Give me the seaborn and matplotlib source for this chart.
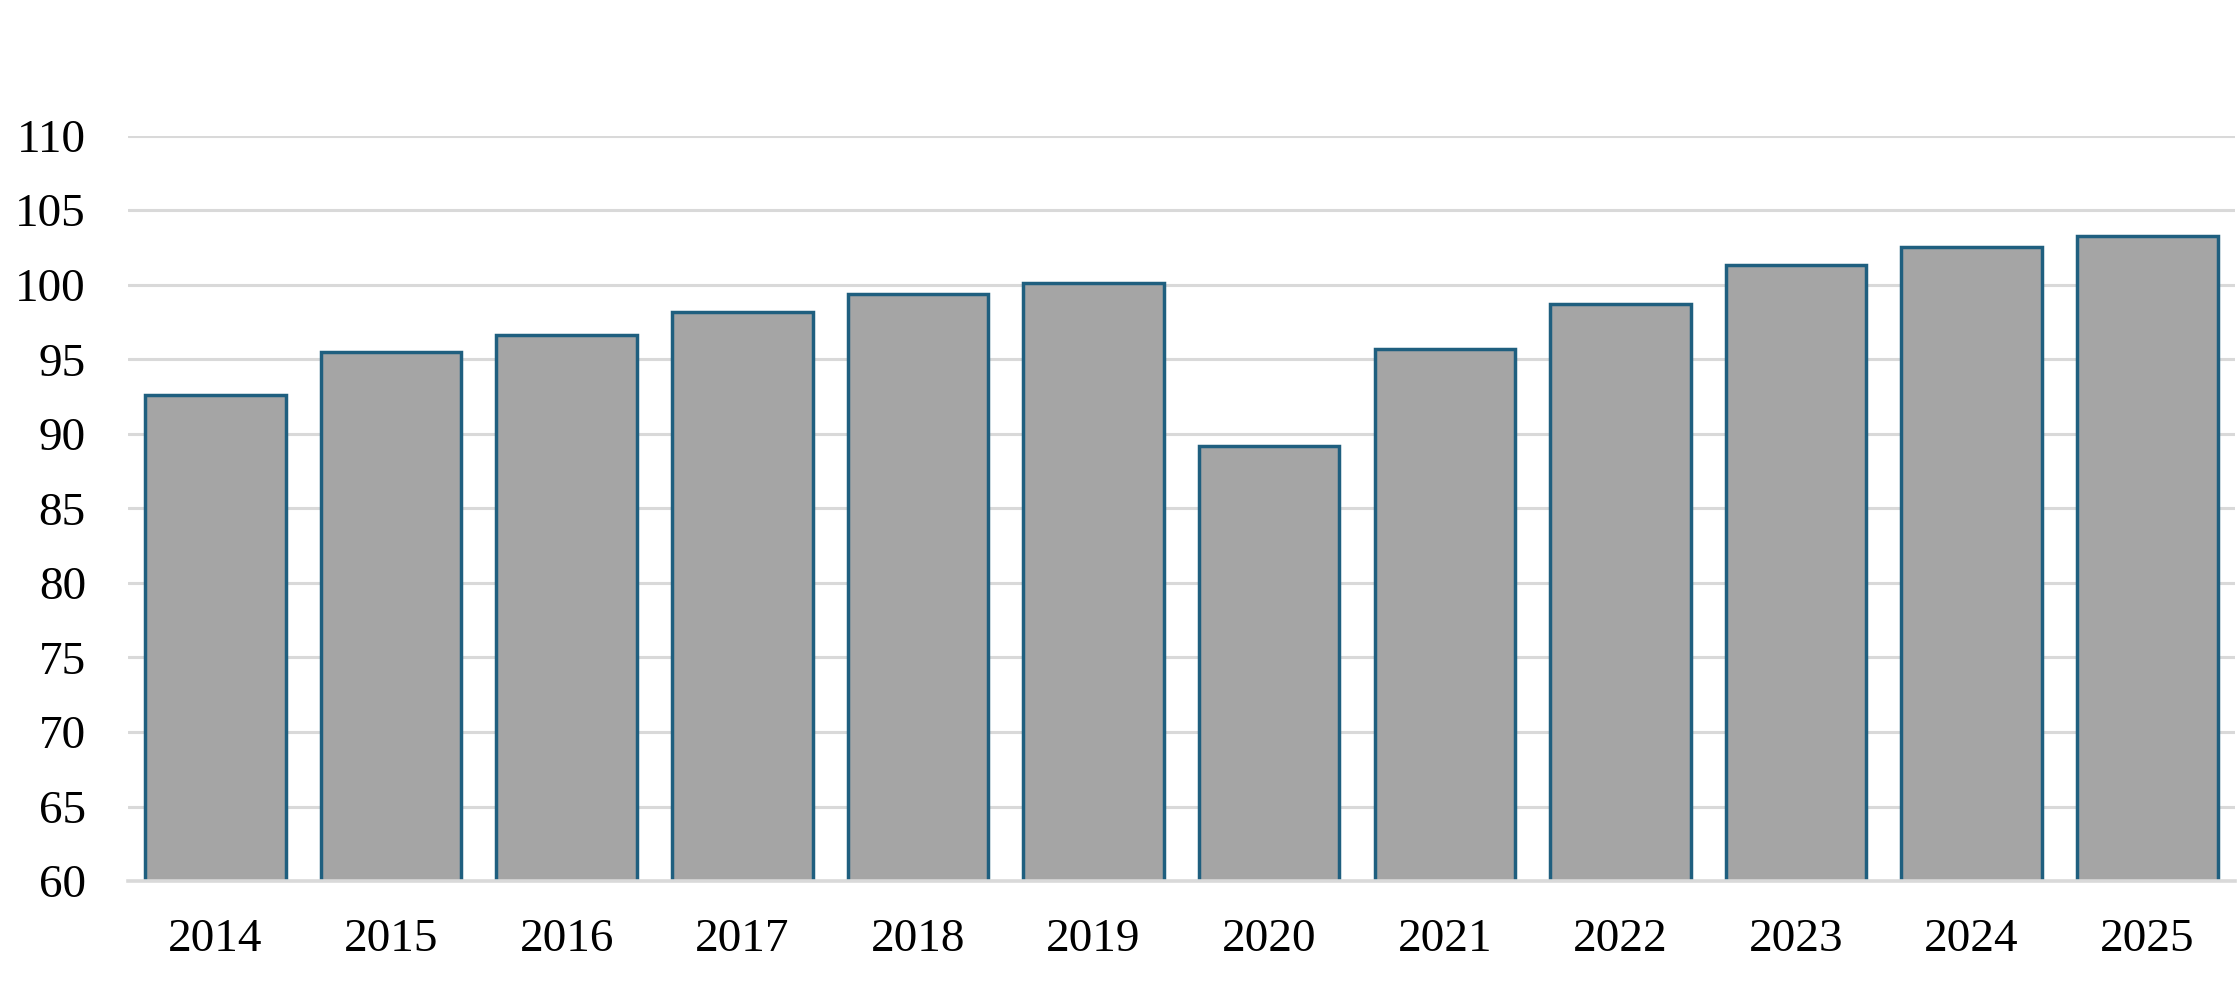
import matplotlib
matplotlib.use("Agg")
import matplotlib.pyplot as plt
import seaborn as sns
import pandas as pd

years = ["2014", "2015", "2016", "2017", "2018", "2019",
         "2020", "2021", "2022", "2023", "2024", "2025"]
values = [92.6, 95.5, 96.6, 98.2, 99.4, 100.1,
          89.2, 95.7, 98.7, 101.3, 102.5, 103.3]
yticks = [60, 65, 70, 75, 80, 85, 90, 95, 100, 105, 110]

df = pd.DataFrame({"year": years, "value": values})

sns.set_style("white")
plt.rcParams["font.family"] = ["Liberation Serif", "DejaVu Serif"]

fig, ax = plt.subplots(figsize=(22.38, 9.9), dpi=100)
fig.subplots_adjust(left=0.057, right=0.9987, top=0.863, bottom=0.11)

sns.barplot(data=df, x="year", y="value", color="#A5A5A5", saturation=1,
            width=0.8, edgecolor="#1F5F7F", linewidth=2.5, ax=ax, zorder=3)

ax.set_ylim(60, 110)
ax.set_yticks(yticks)
ax.set_xlim(-0.5, len(years) - 0.5)
ax.yaxis.grid(True, color="#D9D9D9", linewidth=2.2, zorder=0)
ax.set_axisbelow(True)
for s in ["top", "right", "left"]:
    ax.spines[s].set_visible(False)
ax.spines["bottom"].set_color("#D9D9D9")
ax.spines["bottom"].set_linewidth(2.6)
ax.spines["bottom"].set_zorder(4)
ax.tick_params(axis="both", length=0, labelsize=34, colors="black")
ax.tick_params(axis="x", pad=27)
ax.tick_params(axis="y", pad=30)
ax.set_xlabel("")
ax.set_ylabel("")

fig.savefig("out.png", dpi=100)
